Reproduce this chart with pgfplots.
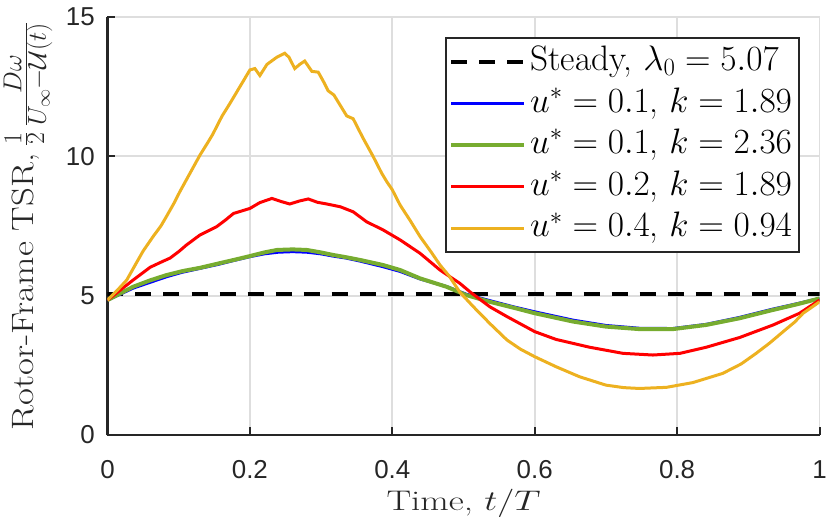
\documentclass[border=0pt]{standalone}
\usepackage{fix-cm}
\usepackage{fontspec}
\usepackage{graphicx}
\usepackage{pgfplots}
\pgfplotsset{compat=1.18}
\newfontfamily\tickfont{Liberation Sans}
\newfontfamily\ylabfont[FakeStretch=1.19]{Latin Modern Roman}
\definecolor{mblue}{rgb}{0,0,1}
\definecolor{mgreen}{rgb}{0.466,0.674,0.188}
\definecolor{mred}{rgb}{1,0,0}
\definecolor{myellow}{rgb}{0.929,0.694,0.125}
\definecolor{axgray}{rgb}{0.15,0.15,0.15}
\newcommand{\fr}[1]{\mbox{\fontsize{26}{28}\selectfont$#1$}}

\pgfplotstableread{
t v
0 4.84
0.014 5.2
0.027 5.56
0.04 6.15
0.05 6.6
0.064 7.12
0.075 7.5
0.083 7.85
0.093 8.3
0.102 8.75
0.116 9.4
0.13 10.05
0.141 10.5
0.148 10.8
0.161 11.45
0.172 11.9
0.186 12.5
0.2 13.1
0.207 13.15
0.214 12.9
0.224 13.3
0.238 13.56
0.249 13.7
0.255 13.55
0.263 13.15
0.27 13.3
0.277 13.42
0.287 13.05
0.296 13.02
0.303 12.7
0.31 12.35
0.318 12.2
0.33 11.7
0.336 11.45
0.345 11.35
0.359 10.65
0.373 10.0
0.385 9.4
0.392 9.1
0.4 8.8
0.411 8.25
0.425 7.7
0.439 7.12
0.455 6.55
0.467 6.1
0.48 5.7
0.495 5.12
0.514 4.6
0.537 4.0
0.561 3.41
0.58 3.08
0.6 2.81
0.63 2.45
0.663 2.09
0.70 1.79
0.725 1.7
0.747 1.67
0.785 1.71
0.822 1.88
0.864 2.21
0.89 2.55
0.911 2.93
0.93 3.3
0.949 3.71
0.965 4.05
0.977 4.37
0.99 4.6
1.0 4.78
}\yellowdata

\pgfplotstableread{
t v
0 4.84
0.018 5.2
0.036 5.56
0.06 6.02
0.075 6.2
0.088 6.35
0.1 6.58
0.111 6.82
0.13 7.18
0.153 7.47
0.165 7.7
0.177 7.95
0.2 8.13
0.214 8.34
0.231 8.49
0.245 8.37
0.256 8.29
0.27 8.40
0.282 8.47
0.295 8.35
0.308 8.29
0.327 8.19
0.345 8.01
0.364 7.65
0.387 7.36
0.411 7.0
0.439 6.52
0.467 5.92
0.495 5.44
0.509 5.14
0.537 4.6
0.561 4.25
0.6 3.71
0.630 3.43
0.677 3.15
0.724 2.93
0.766 2.87
0.804 2.93
0.841 3.15
0.888 3.5
0.935 3.95
0.972 4.37
1.0 4.84
}\reddata

\pgfplotstableread{
t v
0 4.84
0.036 5.32
0.06 5.55
0.083 5.74
0.105 5.88
0.13 6.0
0.155 6.15
0.177 6.28
0.2 6.42
0.22 6.55
0.238 6.64
0.26 6.66
0.28 6.64
0.3 6.55
0.317 6.46
0.335 6.38
0.355 6.28
0.387 6.1
0.411 5.92
0.439 5.62
0.476 5.32
0.504 5.02
0.537 4.78
0.57 4.57
0.6 4.37
0.654 4.07
0.70 3.89
0.747 3.8
0.794 3.8
0.841 3.95
0.888 4.19
0.935 4.49
0.97 4.7
1.0 4.9
}\greendata

\pgfplotstableread{
t v
0 4.84
0.036 5.27
0.06 5.48
0.083 5.68
0.105 5.84
0.13 5.98
0.155 6.12
0.177 6.26
0.2 6.4
0.22 6.5
0.24 6.56
0.26 6.58
0.28 6.56
0.3 6.5
0.317 6.42
0.335 6.35
0.355 6.24
0.387 6.04
0.411 5.87
0.439 5.6
0.476 5.33
0.504 5.05
0.537 4.82
0.57 4.6
0.6 4.42
0.654 4.12
0.70 3.93
0.747 3.83
0.794 3.82
0.841 3.97
0.888 4.22
0.935 4.52
0.97 4.72
1.0 4.9
}\bluedata

\begin{document}
\begin{tikzpicture}
\useasboundingbox (-107.5bp,-97bp) rectangle (722.5bp,435bp);
\begin{axis}[
  scale only axis, width=712bp, height=418bp,
  xmin=0, xmax=1, ymin=0, ymax=15,
  xtick={0,0.2,0.4,0.6,0.8,1}, ytick={0,5,10,15},
  axis x line=bottom, axis y line=left,
  axis line style={-, line width=2.2bp, draw=axgray},
  tick style={line width=2bp, draw=axgray},
  major tick length=8bp,
  tick align=inside,
  grid=major,
  major grid style={line width=1.8bp, draw=black!13},
  ticklabel style={font=\tickfont\fontsize{26}{30}\selectfont, text=axgray},
  /pgf/number format/assume math mode=true,
  xticklabel style={inner sep=0pt, anchor=north, yshift=-25bp},
  yticklabel style={inner sep=0pt, anchor=east, xshift=-12.5bp},
  xlabel={\scalebox{1.3}[1]{Time, $t/T$}},
  xlabel style={font=\fontsize{28.5}{32}\selectfont, text=axgray, at={(axis description cs:0.5,-0.1811)}, anchor=base, inner sep=0pt},
  ylabel={\ylabfont Rotor-Frame TSR,\hspace{0.25em}$\frac{\fr{1}}{\fr{2}}\,\frac{\fr{D\omega}}{\fr{U_\infty{-}\mathcal{U}(t)}}$},
  ylabel style={font=\fontsize{31}{34}\selectfont, text=axgray, at={(axis description cs:-0.1039,0.5)}, anchor=base, inner sep=0pt},
  legend image code/.code={\draw[#1] (0bp,0bp) -- (73bp,0bp);},
  legend cell align=left,
  legend style={at={(axis description cs:0.9726,0.952)}, anchor=north east,
    draw=axgray, line width=2bp, fill=white, inner xsep=3bp, inner ysep=3.5bp,
    font=\fontsize{35.5}{40}\selectfont, row sep=0.8bp,
    nodes={inner xsep=4bp, inner ysep=3.9bp, text height=25bp, text depth=8bp}},
]
\addplot[black, line width=4bp, dash pattern=on 16bp off 12bp] coordinates {(0,5.07) (1,5.07)};
\addlegendentry{Steady, $\lambda_0 = 5.07$}
\addplot[mblue, line width=3bp] table[x=t,y=v] {\bluedata};
\addlegendentry{$u^* = 0.1$, $k = 1.89$}
\addplot[mgreen, line width=4bp] table[x=t,y=v] {\greendata};
\addlegendentry{$u^* = 0.1$, $k = 2.36$}
\addplot[mred, line width=3bp] table[x=t,y=v] {\reddata};
\addlegendentry{$u^* = 0.2$, $k = 1.89$}
\addplot[myellow, line width=3bp] table[x=t,y=v] {\yellowdata};
\addlegendentry{$u^* = 0.4$, $k = 0.94$}
\end{axis}
\end{tikzpicture}
\end{document}
